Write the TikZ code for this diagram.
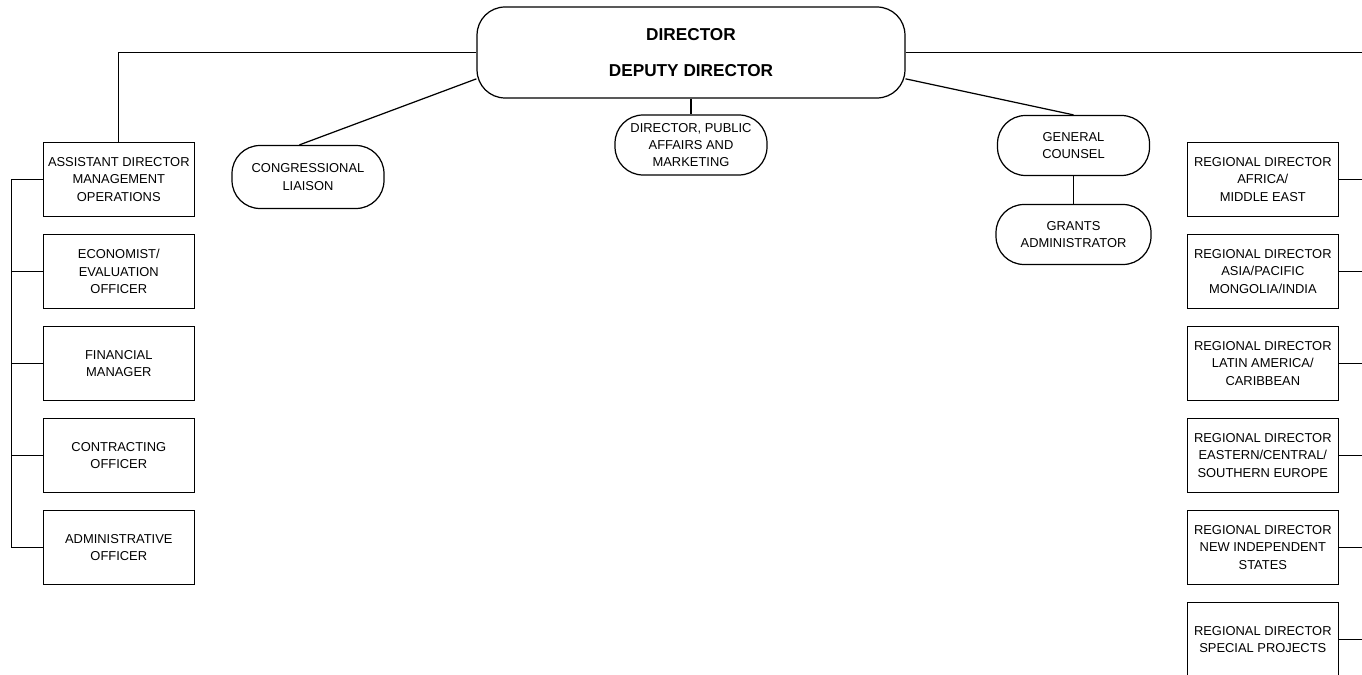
\documentclass[tikz,border=0pt]{standalone}
\usepackage{fontspec}
\setmainfont{Liberation Sans}
\begin{document}
\begin{tikzpicture}[x=0.02cm, y=-0.02cm, line width=0.7pt,
  every node/.style={font=\fontsize{7.35}{9.9}\selectfont, align=center, inner sep=2pt},
  office/.style={draw, rectangle, minimum width=3.02cm, minimum height=1.48cm},
  pill/.style={draw, rounded corners=0.56cm, minimum width=3.04cm, minimum height=1.2cm}]
  \clip (0,0) rectangle (1362,675);

  % head of the agency
  \node[draw, rounded corners=0.56cm, minimum width=8.56cm, minimum height=1.82cm,
        font=\fontsize{9.8}{20.8}\selectfont\bfseries] (dir) at (691,52.5) {DIRECTOR\\DEPUTY DIRECTOR};

  \node[pill, minimum height=1.26cm] (cong) at (308,177) {CONGRESSIONAL\\LIAISON};
  \node[pill] (pub) at (691,145) {DIRECTOR, PUBLIC\\AFFAIRS AND\\MARKETING};
  \node[pill] (gc) at (1073.5,145.5) {GENERAL\\COUNSEL};
  \node[pill, minimum width=3.1cm] (grants) at (1073.5,234.5) {GRANTS\\ADMINISTRATOR};

  % management column
  \foreach \nm/\y/\txt in {asst/179.5/{ASSISTANT DIRECTOR\\MANAGEMENT\\OPERATIONS},
                           econ/271.5/{ECONOMIST/\\EVALUATION\\OFFICER},
                           fin/363.5/{FINANCIAL\\MANAGER},
                           contr/455.5/{CONTRACTING\\OFFICER},
                           adm/547.5/{ADMINISTRATIVE\\OFFICER}}
    \node[office] (\nm) at (118.8,\y) {\txt};

  % regional column
  \foreach \nm/\y/\txt in {rd1/179.5/{REGIONAL DIRECTOR\\AFRICA/\\MIDDLE EAST},
                           rd2/271.5/{REGIONAL DIRECTOR\\ASIA/PACIFIC\\MONGOLIA/INDIA},
                           rd3/363.5/{REGIONAL DIRECTOR\\LATIN AMERICA/\\CARIBBEAN},
                           rd4/455.5/{REGIONAL DIRECTOR\\EASTERN/CENTRAL/\\SOUTHERN EUROPE},
                           rd5/547.5/{REGIONAL DIRECTOR\\NEW INDEPENDENT\\STATES},
                           rd6/639.5/{REGIONAL DIRECTOR\\SPECIAL PROJECTS}}
    \node[office] (\nm) at (1262.8,\y) {\txt};

  \coordinate (edge) at (1362,52.5);
  \coordinate (spine) at (11.7,0);

  % connectors
  \draw (dir.west) -| (asst.north);
  \draw (dir.east) -- (edge);
  \draw (dir.187) -- (cong.105);
  \draw (dir.south) -- (pub.north);
  \draw (dir.-7) -- (gc.north);
  \draw (gc.south) -- (grants.north);

  \draw (asst.west) -- (asst.west -| spine) -- (adm.west -| spine) -- (adm.west);
  \foreach \nm in {econ,fin,contr}
    \draw (\nm.west) -- (\nm.west -| spine);
  \foreach \i in {1,...,6}
    \draw (rd\i.east) -- (rd\i.east -| edge);
\end{tikzpicture}
\end{document}
